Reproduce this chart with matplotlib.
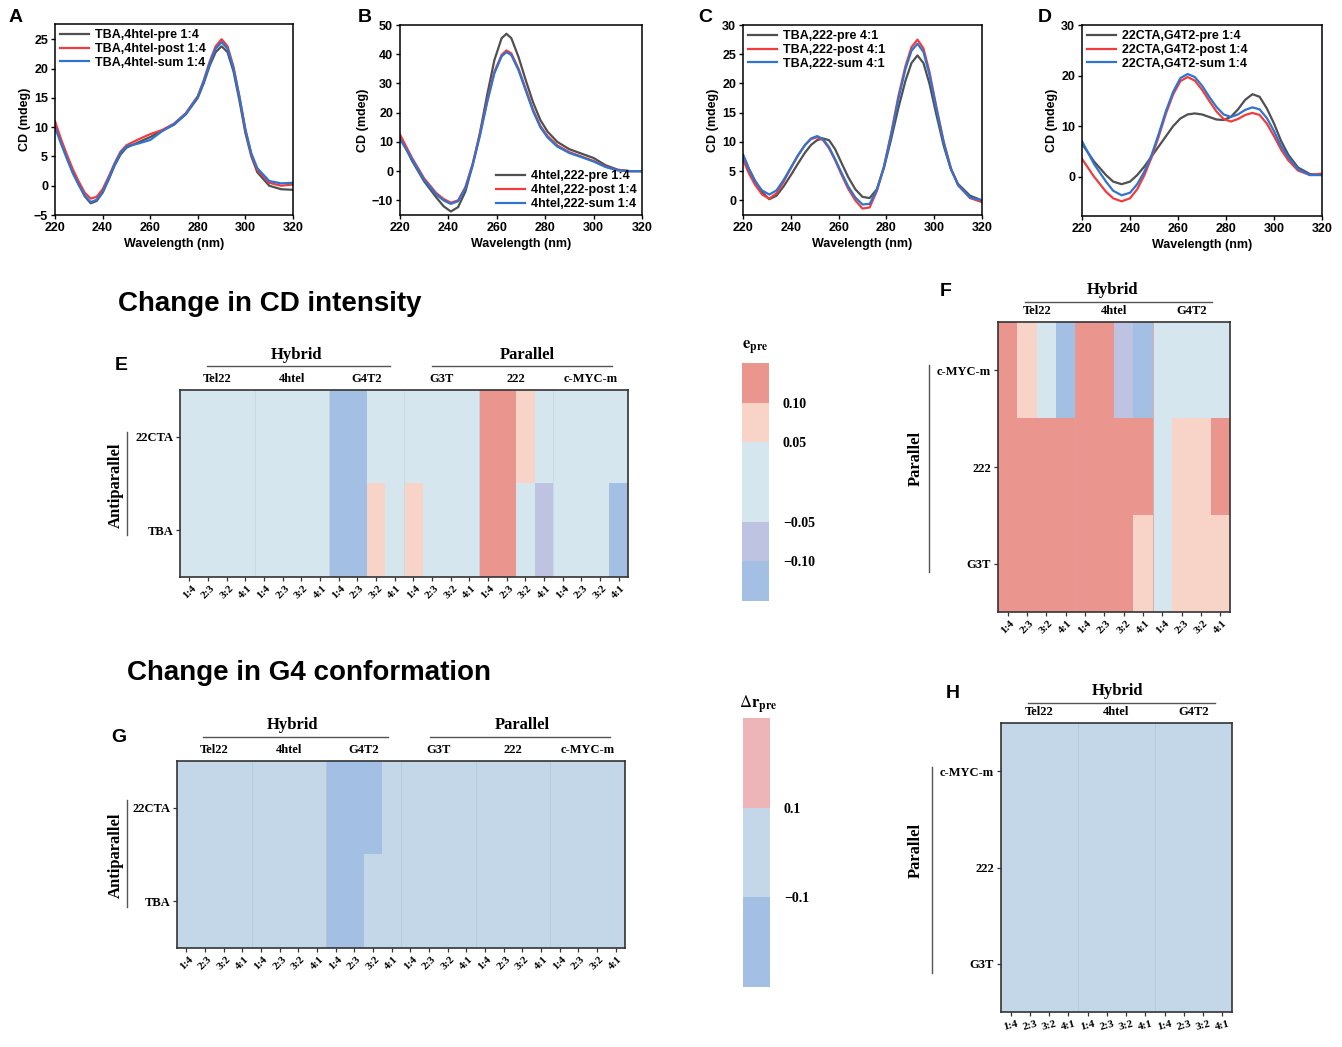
import matplotlib
matplotlib.use('Agg')
import matplotlib.pyplot as plt
import matplotlib.transforms as mtransforms
from matplotlib.colors import ListedColormap, BoundaryNorm
from matplotlib.cm import ScalarMappable
from matplotlib.lines import Line2D

# ---- CD spectra ----
wl_A = [220, 222.5, 225, 227.5, 230, 232.5, 235, 237.5, 240, 242.5, 245, 247.5, 250, 255, 260, 265,
        270, 275, 280, 282.5, 285, 287.5, 290, 292.5, 295, 297.5, 300, 302.5, 305, 310, 315, 320]
A_pre = [10.5, 7.5, 4.8, 2.3, 0.2, -1.8, -3.0, -2.6, -1.2, 1.0, 3.4, 5.3, 6.5, 7.4, 8.3, 9.4,
         10.4, 12.2, 15.0, 17.5, 20.5, 22.8, 23.8, 22.8, 19.5, 14.5, 9.0, 5.0, 2.3, 0.0, -0.6, -0.7]
A_post = [11.0, 8.0, 5.3, 2.8, 0.7, -1.2, -2.2, -1.9, -0.6, 1.5, 3.8, 5.8, 6.9, 7.9, 8.8, 9.5,
          10.6, 12.4, 15.3, 18.0, 21.2, 23.8, 25.0, 23.8, 20.3, 15.2, 9.5, 5.3, 2.7, 0.5, 0.0, 0.2]
A_sum = [10.0, 7.2, 4.6, 2.1, 0.1, -1.7, -2.8, -2.4, -1.1, 1.2, 3.6, 5.6, 6.7, 7.2, 7.8, 9.3,
         10.5, 12.3, 15.2, 17.8, 20.9, 23.4, 24.5, 23.4, 20.0, 15.1, 9.6, 5.5, 3.0, 0.8, 0.4, 0.5]
A_names = ['TBA,4htel-pre 1:4', 'TBA,4htel-post 1:4', 'TBA,4htel-sum 1:4']

wl_B = [220, 225, 230, 235, 238, 241, 244, 247, 250, 253, 256, 259, 262, 264, 266, 269, 272, 275,
        278, 281, 285, 290, 295, 300, 305, 310, 315, 320]
B_pre = [12.0, 3.5, -3.5, -9.0, -12.0, -13.8, -12.3, -7.0, 2.0, 13.0, 26.0, 38.0, 45.5, 47.0, 45.5,
         39.0, 31.0, 23.5, 17.5, 13.5, 10.0, 7.5, 6.0, 4.5, 2.0, 0.5, 0.0, 0.0]
B_post = [12.5, 4.5, -2.5, -7.5, -9.5, -10.8, -10.0, -5.5, 2.5, 12.5, 24.0, 34.0, 39.8, 41.3, 40.3,
          35.0, 28.0, 21.0, 15.5, 12.0, 8.8, 6.5, 5.0, 3.5, 1.5, 0.3, 0.0, 0.0]
B_sum = [11.0, 4.0, -3.0, -8.0, -10.0, -11.2, -10.3, -5.8, 2.0, 12.0, 23.5, 33.5, 39.3, 40.7, 39.7,
         34.5, 27.5, 20.5, 15.0, 11.5, 8.4, 6.2, 4.8, 3.3, 1.4, 0.3, 0.0, 0.0]
B_names = ['4htel,222-pre 1:4', '4htel,222-post 1:4', '4htel,222-sum 1:4']

wl_C = [220, 222.5, 225, 228, 231, 234, 237, 240, 243, 246, 248.5, 251, 253.5, 256, 258.5, 261, 264,
        267, 270, 273, 276, 279, 282, 285, 288, 290.5, 293, 295.5, 298, 301, 304, 307, 310, 315, 320]
C_pre = [7.8, 5.4, 3.4, 1.4, 0.2, 0.8, 2.4, 4.3, 6.3, 8.2, 9.5, 10.3, 10.6, 10.3, 8.8, 6.6, 4.0,
         1.9, 0.6, 0.4, 1.9, 5.6, 10.5, 15.8, 20.5, 23.5, 24.8, 23.5, 20.0, 14.5, 9.3, 5.3, 2.8, 0.8, 0.0]
C_post = [7.0, 4.6, 2.7, 1.0, 0.3, 1.2, 3.2, 5.5, 7.7, 9.5, 10.5, 10.8, 10.3, 8.9, 6.9, 4.6, 2.0,
          0.0, -1.4, -1.2, 1.6, 5.8, 11.5, 17.8, 23.0, 26.2, 27.5, 26.0, 22.0, 15.8, 10.0, 5.5, 2.6, 0.4, -0.3]
C_sum = [7.8, 5.3, 3.3, 1.7, 1.0, 1.7, 3.5, 5.6, 7.7, 9.5, 10.6, 11.0, 10.5, 9.1, 7.1, 4.9, 2.4,
         0.5, -0.7, -0.6, 1.8, 5.8, 11.2, 17.3, 22.5, 25.6, 26.8, 25.4, 21.5, 15.5, 9.8, 5.4, 2.6, 0.5, 0.0]
C_names = ['TBA,222-pre 4:1', 'TBA,222-post 4:1', 'TBA,222-sum 4:1']

wl_D = [220, 225, 230, 233, 236.5, 240, 243, 246, 249, 252, 255, 258, 261, 264, 267, 270, 273, 276,
        279, 282, 285, 288, 291, 294, 297, 300, 303, 306, 310, 315, 320]
D_pre = [6.5, 3.0, 0.3, -1.0, -1.5, -1.0, 0.3, 2.0, 4.0, 6.0, 8.0, 10.0, 11.5, 12.3, 12.5, 12.3,
         11.8, 11.3, 11.2, 11.8, 13.3, 15.2, 16.3, 15.8, 13.5, 10.5, 7.0, 4.3, 1.8, 0.5, 0.3]
D_post = [3.5, 0.0, -3.0, -4.3, -4.9, -4.3, -2.5, 0.3, 3.8, 8.0, 12.5, 16.3, 18.9, 19.7, 19.0, 17.2,
          15.0, 12.9, 11.4, 10.9, 11.4, 12.2, 12.6, 12.2, 10.5, 8.0, 5.3, 3.2, 1.2, 0.3, 0.6]
D_sum = [7.0, 2.5, -1.0, -2.8, -3.7, -3.2, -1.5, 1.0, 4.3, 8.5, 13.0, 16.8, 19.5, 20.3, 19.7, 18.0,
         15.8, 13.8, 12.3, 11.8, 12.3, 13.2, 13.7, 13.3, 11.6, 9.0, 6.0, 3.8, 1.5, 0.3, 0.3]
D_names = ['22CTA,G4T2-pre 1:4', '22CTA,G4T2-post 1:4', '22CTA,G4T2-sum 1:4']

# ---- heatmaps ----
ratios = ['1:4', '2:3', '3:2', '4:1']
groups_6 = ['Tel22', '4htel', 'G4T2', 'G3T', '222', 'c-MYC-m']
groups_3 = ['Tel22', '4htel', 'G4T2']
rows_anti = ['22CTA', 'TBA']
rows_par = ['c-MYC-m', '222', 'G3T']

# e_pre (panel E, F)
E_vals = [
    [0, 0, 0, 0, 0, 0, 0, 0, -0.15, -0.15, 0, 0, 0, 0, 0, 0, 0.15, 0.15, 0.07, 0, 0, 0, 0, 0],
    [0, 0, 0, 0, 0, 0, 0, 0, -0.15, -0.15, 0.07, 0, 0.07, 0, 0, 0, 0.15, 0.15, 0, -0.07, 0, 0, 0, -0.15],
]
F_vals = [
    [0.15, 0.07, 0, -0.15, 0.15, 0.15, -0.07, -0.15, 0, 0, 0, 0],
    [0.15, 0.15, 0.15, 0.15, 0.15, 0.15, 0.15, 0.15, 0, 0.07, 0.07, 0.15],
    [0.15, 0.15, 0.15, 0.15, 0.15, 0.15, 0.15, 0.07, 0, 0.07, 0.07, 0.07],
]
# delta r_pre (panel G, H)
G_vals = [
    [0, 0, 0, 0, 0, 0, 0, 0, -0.15, -0.15, -0.15, 0, 0, 0, 0, 0, 0, 0, 0, 0, 0, 0, 0, 0],
    [0, 0, 0, 0, 0, 0, 0, 0, -0.15, -0.15, 0, 0, 0, 0, 0, 0, 0, 0, 0, 0, 0, 0, 0, 0],
]
H_vals = [[0] * 12, [0] * 12, [0] * 12]

e_bounds = [-0.15, -0.10, -0.05, 0.05, 0.10, 0.15]
e_colors = ['#a3c0e4', '#bec3e2', '#d5e6ef', '#f8d4c8', '#ea968e']
e_ticks = [-0.10, -0.05, 0.05, 0.10]
e_ticklabels = ['\u22120.10', '\u22120.05', '0.05', '0.10']

r_bounds = [-0.3, -0.1, 0.1, 0.3]
r_colors = ['#a3bfe4', '#c3d7e8', '#eeb5b9']
r_ticks = [-0.1, 0.1]
r_ticklabels = ['\u22120.1', '0.1']

GRAY, RED, BLUE = '#505050', '#f03c3c', '#2f74d0'
SANS = 'Liberation Sans'
SERIF = 'Liberation Serif'
plt.rcParams['mathtext.fontset'] = 'stix'

W, H = 1342, 1047
fig = plt.figure(figsize=(W / 100, H / 100), dpi=100)


def box(l, t, r, b):
    return [l / W, 1 - b / H, (r - l) / W, (b - t) / H]


def ftext(x, y, s, **kw):
    kw.setdefault('ha', 'center')
    kw.setdefault('va', 'center')
    fig.text(x / W, 1 - y / H, s, **kw)


def fline(x0, y0, x1, y1, color='#555555', lw=1.0):
    fig.add_artist(Line2D([x0 / W, x1 / W], [1 - y0 / H, 1 - y1 / H],
                          transform=fig.transFigure, color=color, lw=lw))


def cd_panel(rect, wl, pre, post, sm, names, ylim, yticks, loc):
    ax = fig.add_axes(box(*rect))
    for y, c, n in [(pre, GRAY, names[0]), (post, RED, names[1]), (sm, BLUE, names[2])]:
        ax.plot(wl, y, color=c, lw=1.6, label=n, solid_joinstyle='round')
    ax.set_xlim(220, 320)
    ax.set_ylim(*ylim)
    ax.set_xticks([220, 240, 260, 280, 300, 320])
    ax.set_yticks(yticks)
    ax.set_xlabel('Wavelength (nm)', family=SANS, fontweight='bold', fontsize=9, labelpad=3)
    ax.set_ylabel('CD (mdeg)', family=SANS, fontweight='bold', fontsize=9, labelpad=2)
    ax.tick_params(direction='out', length=3, width=1, pad=2, labelsize=9)
    for lab in ax.get_xticklabels() + ax.get_yticklabels():
        lab.set_family(SANS)
        lab.set_fontweight('bold')
    for s in ax.spines.values():
        s.set_linewidth(1.1)
    ax.legend(loc=loc, frameon=False, prop=dict(family=SANS, weight='bold', size=9),
              handlelength=2.3, labelspacing=0.15, borderaxespad=0.2,
              handletextpad=0.5, borderpad=0.2)
    return ax


cd_panel((55, 24, 293, 215), wl_A, A_pre, A_post, A_sum, A_names, (-5, 27.6), [-5, 0, 5, 10, 15, 20, 25], 'upper left')
cd_panel((400, 25, 642, 215), wl_B, B_pre, B_post, B_sum, B_names, (-15, 50), [-10, 0, 10, 20, 30, 40, 50], 'lower right')
cd_panel((743, 25, 982, 215), wl_C, C_pre, C_post, C_sum, C_names, (-2.5, 30), [0, 5, 10, 15, 20, 25, 30], 'upper left')
cd_panel((1082, 25, 1322, 216), wl_D, D_pre, D_post, D_sum, D_names, (-7.8, 30), [0, 10, 20, 30], 'upper left')

for letter, x, y in [('A', 16, 18), ('B', 365, 18), ('C', 705, 18), ('D', 1045, 18),
                     ('E', 121, 365), ('F', 946, 292), ('G', 119, 737), ('H', 953, 693)]:
    ftext(x, y, letter, family=SANS, fontweight='bold', fontsize=14)

ftext(118, 304, 'Change in CD intensity', ha='left', family=SANS, fontweight='bold', fontsize=20)
ftext(127, 673, 'Change in G4 conformation', ha='left', family=SANS, fontweight='bold', fontsize=20)


def heat(rect, vals, rows, groups, colors, bounds, sep, rot):
    ax = fig.add_axes(box(*rect))
    cmap = ListedColormap(colors)
    norm = BoundaryNorm(bounds, cmap.N)
    ncol = 4 * len(groups)
    ax.imshow(vals, cmap=cmap, norm=norm, aspect='auto', interpolation='nearest',
              extent=(-0.5, ncol - 0.5, len(rows) - 0.5, -0.5))
    for k in range(1, len(groups)):
        ax.axvline(4 * k - 0.5, color=sep, lw=0.6)
    ax.set_xticks(range(ncol))
    ax.set_xticklabels(ratios * len(groups), rotation=rot, ha='center', va='top',
                       family=SERIF, fontweight='bold', fontsize=8)
    ax.set_yticks(range(len(rows)))
    ax.set_yticklabels(rows, family=SERIF, fontweight='bold', fontsize=9)
    ax.tick_params(direction='out', length=3, width=0.9, pad=2, color='#333333')
    for s in ax.spines.values():
        s.set_linewidth(1.2)
        s.set_color('#333333')
    trans = mtransforms.blended_transform_factory(ax.transData, ax.transAxes)
    hgt = rect[3] - rect[1]
    for k, g in enumerate(groups):
        ax.text(4 * k + 1.5, 1 + 11 / hgt, g, transform=trans, ha='center', va='center',
                family=SERIF, fontweight='bold', fontsize=9)
    return cmap, norm


def cbar(rect, cmap, norm, ticks, labels, title, tx, ty):
    cax = fig.add_axes(box(*rect))
    cb = fig.colorbar(ScalarMappable(norm=norm, cmap=cmap), cax=cax,
                      spacing='proportional', ticks=ticks)
    cb.outline.set_visible(False)
    cax.minorticks_off()
    cax.tick_params(which='both', length=0, pad=10)
    cax.set_yticklabels(labels, family=SERIF, fontweight='bold', fontsize=10)
    ftext(tx, ty, title, fontsize=12)


seri = dict(family=SERIF, fontweight='bold', fontsize=12)

# E
cmE, nmE = heat((180, 390, 628, 577), E_vals, rows_anti, groups_6, e_colors, e_bounds, '#c6d9e4', 45)
ftext(297, 355, 'Hybrid', **seri)
fline(207, 366, 390, 366)
ftext(527, 355, 'Parallel', **seri)
fline(432, 366, 612, 366)
ftext(116, 485, 'Antiparallel', rotation=90, **seri)
fline(127, 432, 127, 535)
cbar((742, 363, 769, 601), cmE, nmE, e_ticks, e_ticklabels, r'$\mathbf{e}_{\mathbf{pre}}$', 755, 348)

# F
heat((998, 322, 1230, 612), F_vals, rows_par, groups_3, e_colors, e_bounds, '#e0a098', 45)
ftext(1113, 290, 'Hybrid', **seri)
fline(1025, 302, 1212, 302)
ftext(916, 458, 'Parallel', rotation=90, **seri)
fline(929, 365, 929, 572)

# G
cmG, nmG = heat((177, 761, 625, 948), G_vals, rows_anti, groups_6, r_colors, r_bounds, '#b3c8dc', 45)
ftext(293, 725, 'Hybrid', **seri)
fline(203, 737, 388, 737)
ftext(522, 725, 'Parallel', **seri)
fline(430, 737, 610, 737)
ftext(116, 855, 'Antiparallel', rotation=90, **seri)
fline(127, 800, 127, 907)
cbar((743, 718, 770, 987), cmG, nmG, r_ticks, r_ticklabels,
     r'$\mathit{\Delta}\mathbf{r}_{\mathbf{pre}}$', 758, 705)

# H
heat((1001, 723, 1232, 1012), H_vals, rows_par, groups_3, r_colors, r_bounds, '#b3c8dc', 15)
ftext(1118, 691, 'Hybrid', **seri)
fline(1028, 703, 1215, 703)
ftext(916, 850, 'Parallel', rotation=90, **seri)
fline(932, 767, 932, 973)

fig.savefig('out.png', dpi=100)
